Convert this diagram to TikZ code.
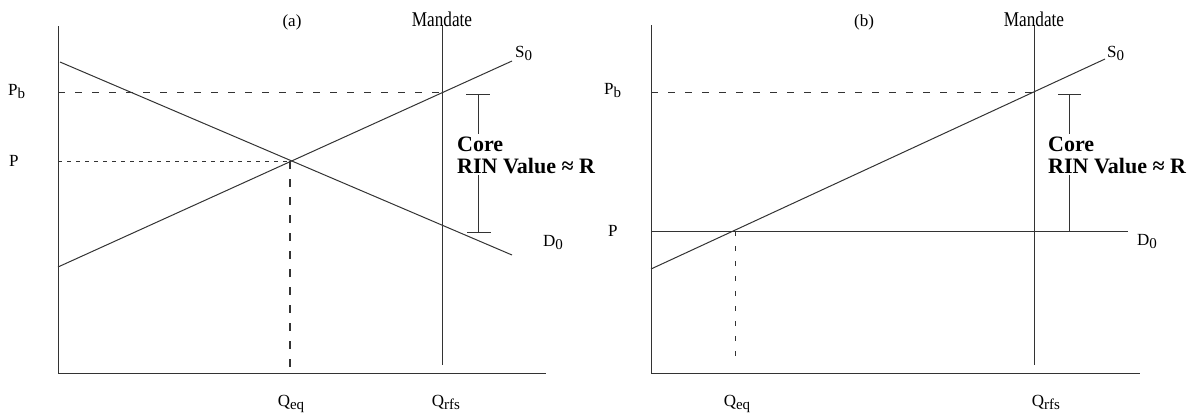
\documentclass[tikz,border=0pt]{standalone}
\usepackage{fontspec}
\setmainfont{Liberation Serif}
\newcommand{\lowsub}[1]{\raisebox{-3pt}{\fontsize{15}{15}\selectfont #1}}
\newcommand{\mandtxt}{\scalebox{0.82}[1]{\fontsize{21}{21}\selectfont Mandate}}
\begin{document}
\begin{tikzpicture}[x=1pt,y=-1pt,
  ln/.style={draw=black!80, line width=1pt},
  dashA/.style={ln, dash pattern=on 7pt off 10pt},
  dashB/.style={ln, dash pattern=on 3.5pt off 5.5pt},
  dashC/.style={ln, line width=1.3pt, dash pattern=on 8pt off 10pt},
  dashD/.style={ln, dash pattern=on 5pt off 10pt},
  lab/.style={inner sep=0pt, anchor=base west, font=\fontsize{17}{17}\selectfont},
  labc/.style={inner sep=0pt, anchor=base, font=\fontsize{17}{17}\selectfont},
  core/.style={inner sep=0pt, anchor=base west, font=\fontsize{22}{22}\selectfont\bfseries}]
\useasboundingbox (0,0) rectangle (1199,416);
% ---------- panel (a) ----------
\coordinate (aT) at (58,26);
\coordinate (aO) at (58,373);
\coordinate (aX) at (546,373);
\coordinate (aD1) at (60,62);
\coordinate (aD2) at (512,255);
\coordinate (aS1) at (58,267);
\coordinate (aS2) at (512,61);
\coordinate (aE) at (290,161);
\coordinate (aEq) at (290,373);
\coordinate (aM1) at (442,25);
\coordinate (aM2) at (442,365);
\coordinate (aPb) at (58,92);
\coordinate (aMb) at (442,92);
\coordinate (aP) at (58,161);
\coordinate (aB1) at (478,94);
\coordinate (aB2) at (478,134);
\coordinate (aB3) at (478,175);
\coordinate (aB4) at (478,232);
\coordinate (aC1) at (466,94);
\coordinate (aC2) at (490,94);
\coordinate (aC3) at (467,232);
\coordinate (aC4) at (491,232);
\draw[ln] (aT) -- (aO) -- (aX);
\draw[ln] (aD1) -- (aD2);
\draw[ln] (aS1) -- (aS2);
\draw[ln] (aM1) -- (aM2);
\draw[dashA] (aPb) -- (aMb);
\draw[dashB] (aP) -- (aE);
\draw[dashC] (aE) -- (aEq);
\draw[ln] (aB1) -- (aB2);
\draw[ln] (aB3) -- (aB4);
\draw[ln] (aC1) -- (aC2);
\draw[ln] (aC3) -- (aC4);
\node[labc] (aTitle) at (292,26) {(a)};
\node[inner sep=0pt, anchor=base] (aMand) at (442,26) {\mandtxt};
\node[lab] (aS0) at (515,57) {S\lowsub{0}};
\node[lab] (aD0) at (543,246) {D\lowsub{0}};
\node[lab] (aPbL) at (8,95) {P\lowsub{b}};
\node[lab] (aPL) at (9,166) {P};
\node[labc] (aQeq) at (291,406) {Q\lowsub{eq}};
\node[labc] (aQrfs) at (446,406) {Q\lowsub{rfs}};
\node[core] (aCore) at (457,151) {Core};
\node[core] (aRIN) at (457,173) {RIN Value ≈ R};
% ---------- panel (b) ----------
\coordinate (bT) at (651,25);
\coordinate (bO) at (651,373);
\coordinate (bX) at (1140,373);
\coordinate (bD1) at (651,231);
\coordinate (bD2) at (1128,231);
\coordinate (bS1) at (651,269);
\coordinate (bS2) at (1105,59);
\coordinate (bE) at (735,231);
\coordinate (bEq) at (735,365);
\coordinate (bM1) at (1034,25);
\coordinate (bM2) at (1034,365);
\coordinate (bPb) at (651,92);
\coordinate (bMb) at (1034,92);
\coordinate (bB1) at (1069,94);
\coordinate (bB2) at (1069,134);
\coordinate (bB3) at (1069,175);
\coordinate (bB4) at (1069,231);
\coordinate (bC1) at (1058,94);
\coordinate (bC2) at (1081,94);
\draw[ln] (bT) -- (bO) -- (bX);
\draw[ln] (bD1) -- (bD2);
\draw[ln] (bS1) -- (bS2);
\draw[ln] (bM1) -- (bM2);
\draw[dashA] (bPb) -- (bMb);
\draw[dashD] (bE) -- (bEq);
\draw[ln] (bB1) -- (bB2);
\draw[ln] (bB3) -- (bB4);
\draw[ln] (bC1) -- (bC2);
\node[labc] (bTitle) at (864,26) {(b)};
\node[inner sep=0pt, anchor=base] (bMand) at (1034,26) {\mandtxt};
\node[lab] (bS0) at (1107,57) {S\lowsub{0}};
\node[lab] (bD0) at (1137,245) {D\lowsub{0}};
\node[lab] (bPbL) at (604,94) {P\lowsub{b}};
\node[lab] (bPL) at (608,236) {P};
\node[labc] (bQeq) at (737,406) {Q\lowsub{eq}};
\node[labc] (bQrfs) at (1046,406) {Q\lowsub{rfs}};
\node[core] (bCore) at (1048,151) {Core};
\node[core] (bRIN) at (1048,173) {RIN Value ≈ R};
\end{tikzpicture}
\end{document}
